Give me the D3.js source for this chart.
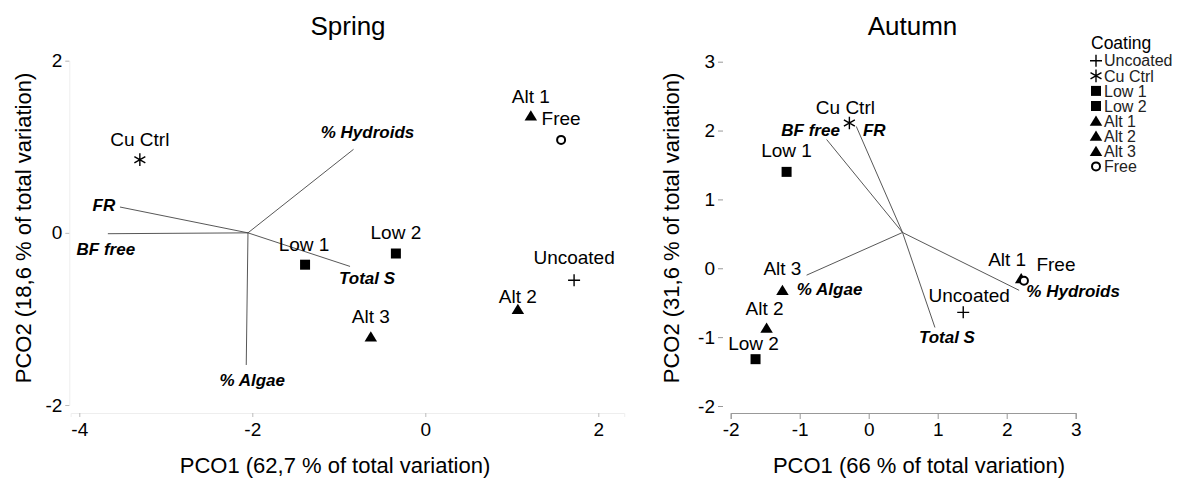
<!DOCTYPE html>
<html>
<head>
<meta charset="utf-8">
<script src="https://cdn.jsdelivr.net/npm/d3@7"></script>
<style>
  body { margin: 0; background: #fff; }
  svg { font-family: "Liberation Sans", Arial, sans-serif; }
</style>
</head>
<body>
<div id="chart"></div>
<script>
// Coating treatments, same order in both seasons
const coatings = ["Uncoated", "Cu Ctrl", "Low 1", "Low 2", "Alt 1", "Alt 2", "Alt 3", "Free"];
const shapes = ["plus", "asterisk", "square", "square", "triangle", "triangle", "triangle", "circle"];

// Spring PCO scores
const springPco1 = [1.72, -3.30, -1.39, -0.34, 1.22, 1.07, -0.63, 1.57];
const springPco2 = [-0.55, 0.85, -0.37, -0.24, 1.36, -0.89, -1.21, 1.08];

// Autumn PCO scores
const autumnPco1 = [1.37, -0.28, -1.19, -1.64, 2.21, -1.48, -1.25, 2.25];
const autumnPco2 = [-0.64, 2.11, 1.40, -1.32, -0.15, -0.87, -0.32, -0.18];

// Vector overlay (variable correlations)
const variables = ["FR", "BF free", "% Hydroids", "% Algae", "Total S"];
const springOrigin = [-2.05, 0.0];
const springVecX = [-3.53, -3.67, -0.83, -2.07, -0.87];
const springVecY = [0.30, -0.01, 0.97, -1.535, -0.39];
const autumnOrigin = [0.49, 0.52];
const autumnVecX = [-0.18, -0.61, 2.18, -0.90, 0.96];
const autumnVecY = [2.06, 1.87, -0.32, -0.10, -0.86];

// Axis ticks and titles
const springXTicks = [-4, -2, 0, 2];
const springYTicks = [-2, 0, 2];
const autumnXTicks = [-2, -1, 0, 1, 2, 3];
const autumnYTicks = [-2, -1, 0, 1, 2, 3];
const springXTitle = "PCO1 (62,7 % of total variation)";
const springYTitle = "PCO2 (18,6 % of total variation)";
const autumnXTitle = "PCO1 (66 % of total variation)";
const autumnYTitle = "PCO2 (31,6 % of total variation)";

// label nudges in px (layout only)
const springPointNudge = {
  "Uncoated": [0, -23], "Cu Ctrl": [0, -20], "Low 1": [-1, -20], "Low 2": [0, -21],
  "Alt 1": [0, -19], "Alt 2": [0, -13], "Alt 3": [0, -21], "Free": [0, -22]
};
const autumnPointNudge = {
  "Uncoated": [6, -17], "Cu Ctrl": [-4, -16], "Low 1": [0, -22], "Low 2": [-2, -16],
  "Alt 1": [-14, -19], "Alt 2": [-2, -20], "Alt 3": [0, -22], "Free": [32, -16]
};
const springVecNudge = {
  "FR": [-16, -2], "BF free": [-2, 15], "% Hydroids": [14, -17], "% Algae": [6, 15], "Total S": [17, 12]
};
const autumnVecNudge = {
  "FR": [18, 4], "BF free": [-16, -9], "% Hydroids": [54, 1], "% Algae": [23, 14], "Total S": [12, 10]
};

const W = 1186, H = 479;
const svg = d3.select("#chart").append("svg")
  .attr("width", W)
  .attr("height", H);

// custom symbols
const symPlus = {
  draw(ctx, size) {
    const r = Math.sqrt(size) / 2;
    ctx.moveTo(-r, 0); ctx.lineTo(r, 0);
    ctx.moveTo(0, -r); ctx.lineTo(0, r);
  }
};
const symAsterisk = {
  draw(ctx, size) {
    const r = Math.sqrt(size) / 2;
    [90, 30, 150].forEach(a => {
      const t = a * Math.PI / 180;
      ctx.moveTo(-r * Math.cos(t), -r * Math.sin(t));
      ctx.lineTo(r * Math.cos(t), r * Math.sin(t));
    });
  }
};
const symTri = {
  draw(ctx, size) {
    const w = Math.sqrt(size);
    const h = w * 0.82;
    ctx.moveTo(0, -h * 0.55);
    ctx.lineTo(w / 2, h * 0.45);
    ctx.lineTo(-w / 2, h * 0.45);
    ctx.closePath();
  }
};
const symSquare = {
  draw(ctx, size) {
    const s = Math.sqrt(size) / 2;
    ctx.rect(-s, -s, 2 * s, 2 * s);
  }
};

const symbolFor = {
  plus: d3.symbol(symPlus, 144),
  asterisk: d3.symbol(symAsterisk, 160),
  square: d3.symbol(symSquare, 100),
  triangle: d3.symbol(symTri, 156),
  circle: d3.symbol(d3.symbolCircle, Math.PI * 16)
};

function styleSymbol(sel) {
  sel.attr("fill", d => (d.shape === "square" || d.shape === "triangle") ? "#000" : (d.shape === "circle" ? "#fff" : "none"))
    .attr("stroke", d => (d.shape === "square" || d.shape === "triangle") ? "none" : "#000")
    .attr("stroke-width", d => d.shape === "circle" ? 2 : 1.4);
}

function drawPanel(cfg) {
  const g = svg.append("g");
  const x = cfg.x, y = cfg.y;

  // x axis
  const xAxisScale = x.copy().domain(cfg.xLine).range(cfg.xLine.map(x));
  const xAx = g.append("g")
    .attr("transform", `translate(0,${cfg.xAxisY})`)
    .call(d3.axisBottom(xAxisScale).tickValues(cfg.xTicks).tickSizeOuter(0)
      .tickSize(cfg.xTickSize).tickPadding(cfg.xTickPad).tickFormat(d3.format("d")));
  xAx.select(".domain").attr("stroke", cfg.xLineColor);
  xAx.selectAll(".tick line").attr("stroke", cfg.tickColor);
  xAx.selectAll(".tick text").attr("font-size", 19).attr("fill", "#000")
    .text(d => d < 0 ? "-" + Math.abs(d) : d);

  // y axis
  const yAx = g.append("g")
    .attr("transform", `translate(${cfg.yAxisX},0)`)
    .call(d3.axisLeft(y).tickValues(cfg.yTicks).tickSizeOuter(0)
      .tickSize(cfg.yTickSize).tickPadding(3).tickFormat(d3.format("d")));
  yAx.select(".domain").attr("stroke", cfg.yLineColor);
  yAx.selectAll(".tick line").attr("stroke", cfg.tickColor);
  yAx.selectAll(".tick text").attr("font-size", 19).attr("fill", "#000")
    .text(d => d < 0 ? "-" + Math.abs(d) : d);

  // titles
  g.append("text")
    .attr("x", cfg.titleX).attr("y", 35)
    .attr("text-anchor", "middle")
    .attr("font-size", 26)
    .text(cfg.title);
  g.append("text")
    .attr("x", cfg.xTitleX).attr("y", 473)
    .attr("text-anchor", "middle")
    .attr("font-size", 22)
    .text(cfg.xTitle);
  g.append("text")
    .attr("transform", `translate(${cfg.yTitleX},228) rotate(-90)`)
    .attr("text-anchor", "middle")
    .attr("font-size", 22)
    .text(cfg.yTitle);

  // vectors
  const vecs = variables.map((v, i) => ({ name: v, x: cfg.vecX[i], y: cfg.vecY[i] }));
  g.selectAll(".vec")
    .data(vecs)
    .enter().append("line")
    .attr("class", "vec")
    .attr("x1", x(cfg.origin[0]))
    .attr("y1", y(cfg.origin[1]))
    .attr("x2", d => x(d.x))
    .attr("y2", d => y(d.y))
    .attr("stroke", "#444")
    .attr("stroke-width", 0.9);

  g.selectAll(".vlab")
    .data(vecs)
    .enter().append("text")
    .attr("class", "vlab")
    .attr("x", d => x(d.x) + cfg.vecNudge[d.name][0])
    .attr("y", d => y(d.y) + cfg.vecNudge[d.name][1])
    .attr("dy", "0.35em")
    .attr("text-anchor", "middle")
    .attr("font-size", 17)
    .attr("font-weight", "bold")
    .attr("font-style", "italic")
    .text(d => d.name);

  // points
  const pts = coatings.map((c, i) => ({ name: c, shape: shapes[i], x: cfg.px[i], y: cfg.py[i] }));
  g.selectAll(".pt")
    .data(pts)
    .enter().append("path")
    .attr("class", "pt")
    .attr("transform", d => `translate(${x(d.x)},${y(d.y)})`)
    .attr("d", d => symbolFor[d.shape]())
    .call(styleSymbol);

  g.selectAll(".plab")
    .data(pts)
    .enter().append("text")
    .attr("class", "plab")
    .attr("x", d => x(d.x) + cfg.pointNudge[d.name][0])
    .attr("y", d => y(d.y) + cfg.pointNudge[d.name][1])
    .attr("dy", "0.35em")
    .attr("text-anchor", "middle")
    .attr("font-size", 19)
    .text(d => d.name);
}

// Spring panel
drawPanel({
  x: d3.scaleLinear().domain([-4, 2]).range([79.3, 598.3]),
  y: d3.scaleLinear().domain([-2, 2]).range([405, 60.7]),
  xLine: [-4.1, 2.3],
  xTicks: springXTicks, yTicks: springYTicks,
  xAxisY: 413, yAxisX: 69.3,
  xTickSize: 4, xTickPad: 6, yTickSize: 4,
  xLineColor: "#eeeeee", yLineColor: "#eeeeee", tickColor: "#bbbbbb",
  title: "Spring", titleX: 348,
  xTitle: springXTitle, xTitleX: 335,
  yTitle: springYTitle, yTitleX: 31,
  origin: springOrigin, vecX: springVecX, vecY: springVecY, vecNudge: springVecNudge,
  px: springPco1, py: springPco2, pointNudge: springPointNudge
});

// Autumn panel
drawPanel({
  x: d3.scaleLinear().domain([-2, 3]).range([730.7, 1075.7]),
  y: d3.scaleLinear().domain([-2, 3]).range([406, 61.7]),
  xLine: [-2, 3],
  xTicks: autumnXTicks, yTicks: autumnYTicks,
  xAxisY: 413, yAxisX: 723,
  xTickSize: 6, xTickPad: 4, yTickSize: 5,
  xLineColor: "#999999", yLineColor: "none", tickColor: "#999999",
  title: "Autumn", titleX: 912.5,
  xTitle: autumnXTitle, xTitleX: 919,
  yTitle: autumnYTitle, yTitleX: 679,
  origin: autumnOrigin, vecX: autumnVecX, vecY: autumnVecY, vecNudge: autumnVecNudge,
  px: autumnPco1, py: autumnPco2, pointNudge: autumnPointNudge
});

// Legend
const legend = svg.append("g").attr("transform", "translate(1091,0)");
legend.append("text")
  .attr("x", 0).attr("y", 49)
  .attr("font-size", 17.5)
  .text("Coating");
const legendItems = coatings.map((c, i) => ({ name: c, shape: shapes[i] }));
const row = legend.selectAll(".lrow")
  .data(legendItems)
  .enter().append("g")
  .attr("class", "lrow")
  .attr("transform", (d, i) => `translate(5,${60.7 + i * 15.1})`);
row.append("path")
  .attr("d", d => symbolFor[d.shape]())
  .call(styleSymbol);
row.append("text")
  .attr("x", 8).attr("dy", "0.36em")
  .attr("font-size", 16)
  .attr("fill", "#222")
  .text(d => d.name);
</script>
</body>
</html>
